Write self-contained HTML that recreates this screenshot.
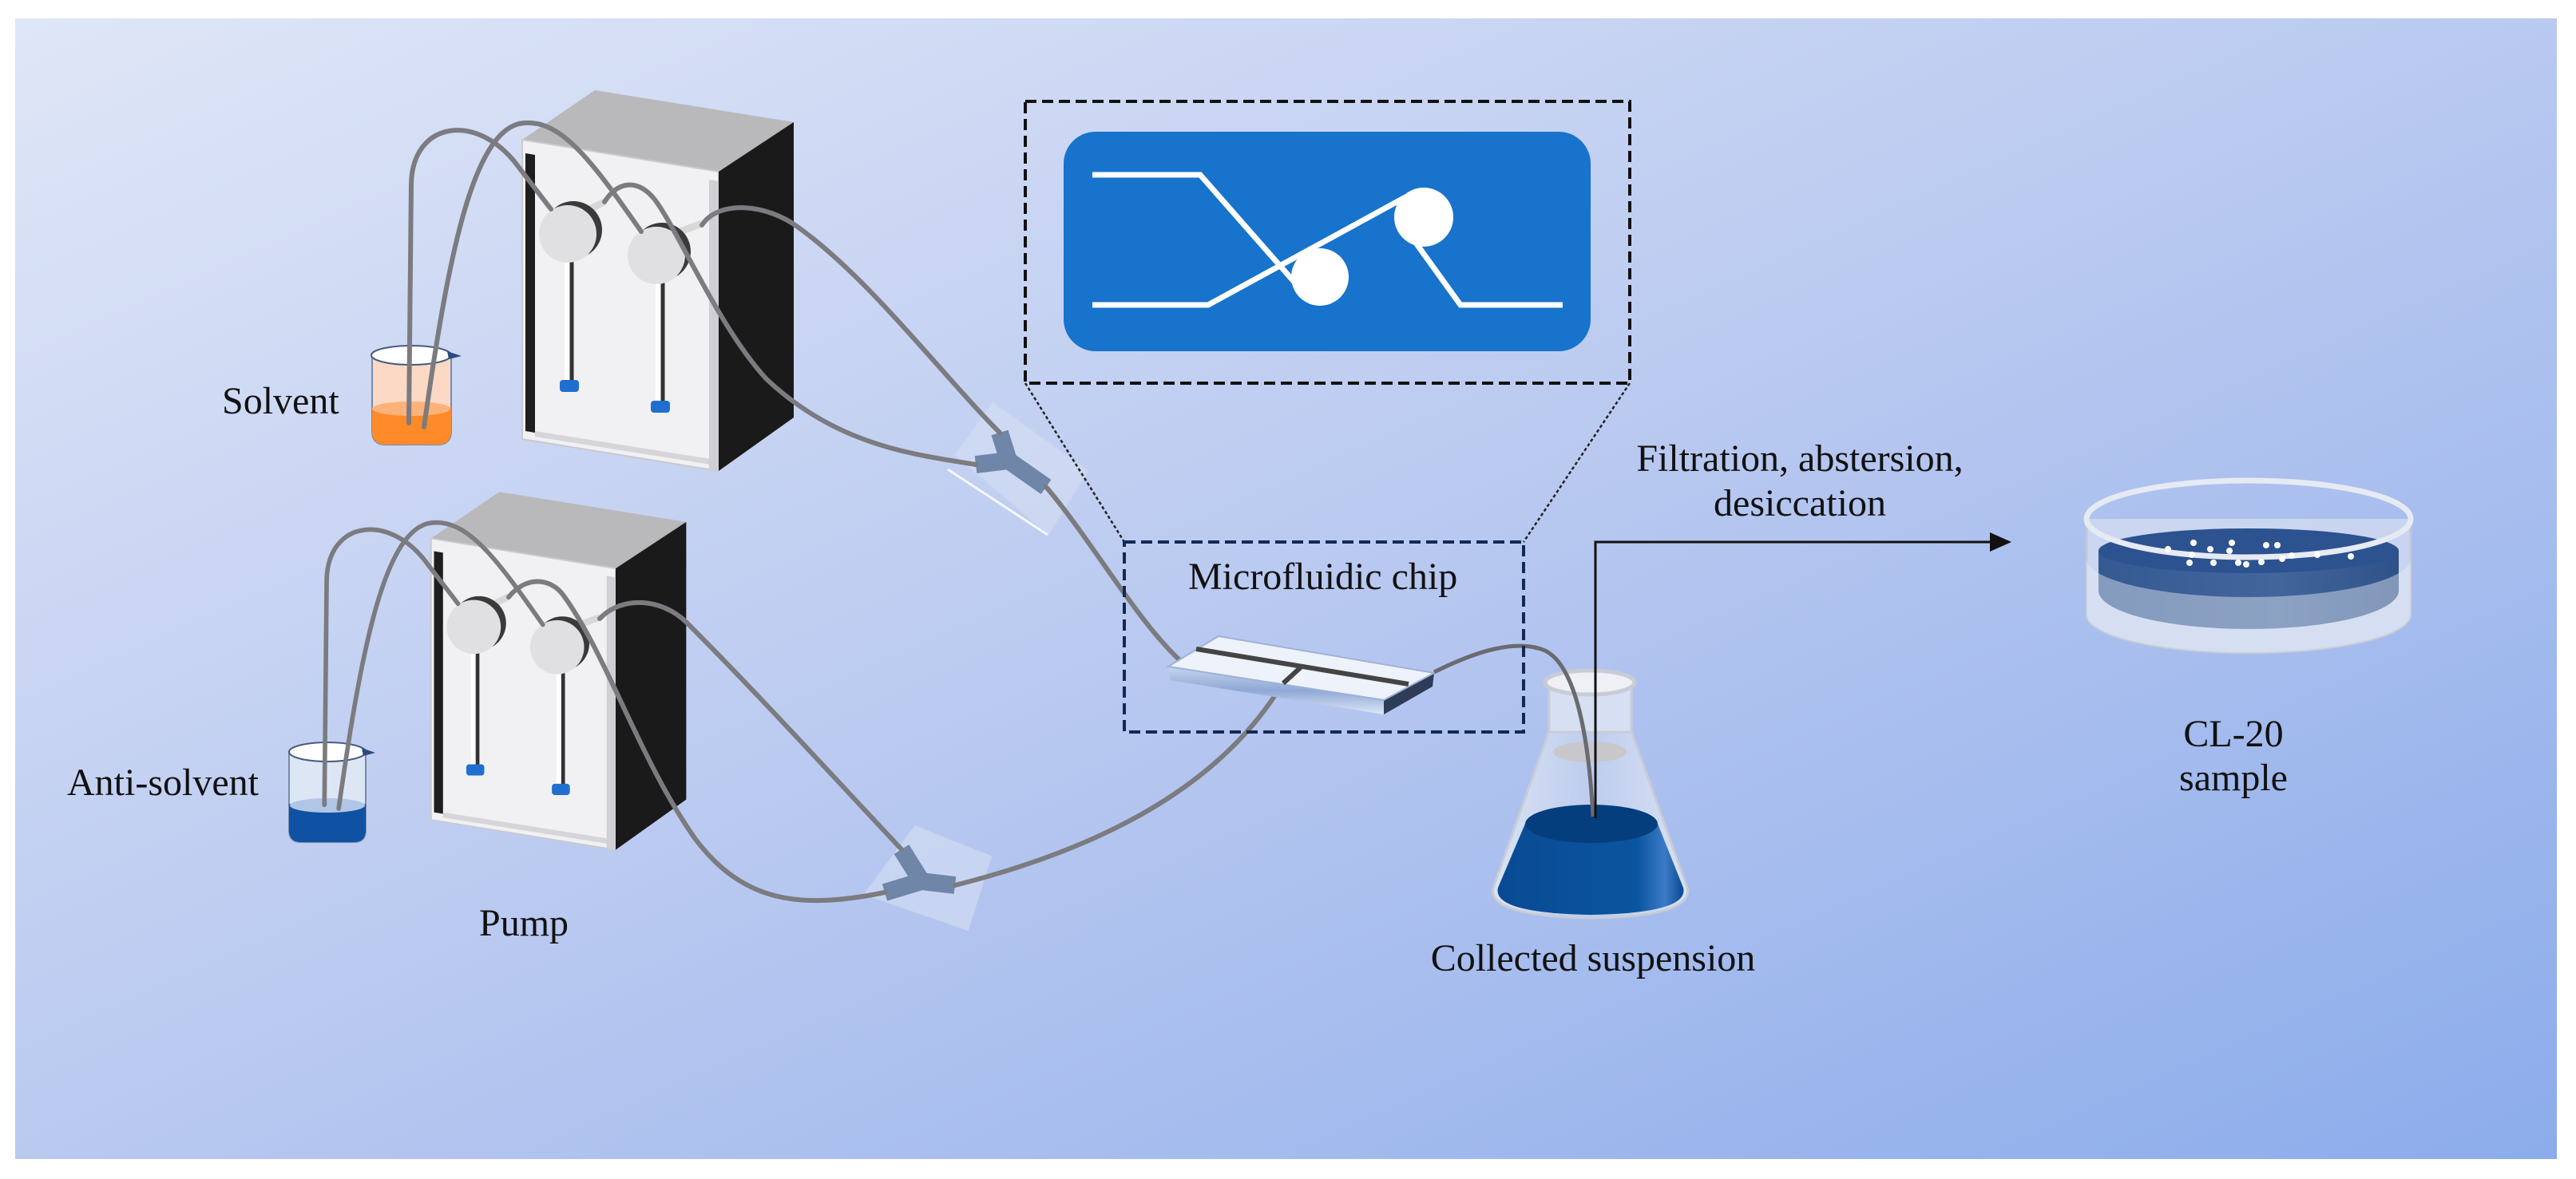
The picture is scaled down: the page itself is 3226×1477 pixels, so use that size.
<!DOCTYPE html>
<html><head><meta charset="utf-8"><style>
html,body{margin:0;padding:0;background:#fff;}
svg{display:block;}
text{font-family:"Liberation Serif",serif;font-size:48px;fill:#111;}
</style></head><body>
<svg width="3226" height="1477" viewBox="0 0 3226 1477" xmlns="http://www.w3.org/2000/svg">
<defs>
<linearGradient id="bg" x1="0" y1="0" x2="1" y2="1">
<stop offset="0" stop-color="#dfe6f7"/><stop offset="0.5" stop-color="#b9c9f0"/><stop offset="1" stop-color="#8caceb"/>
</linearGradient>
<linearGradient id="glass" x1="0" y1="0" x2="1" y2="0">
<stop offset="0" stop-color="#e8ecf5" stop-opacity="0.8"/><stop offset="0.5" stop-color="#d8e0ef" stop-opacity="0.4"/><stop offset="1" stop-color="#e8ecf5" stop-opacity="0.8"/>
</linearGradient>
<linearGradient id="flaskliq" x1="0" y1="0" x2="1" y2="0">
<stop offset="0" stop-color="#0a4a94"/><stop offset="0.75" stop-color="#0a559f"/><stop offset="0.9" stop-color="#3b7bc6"/><stop offset="1" stop-color="#0a4a94"/>
</linearGradient>
<linearGradient id="dishliq" x1="0" y1="0" x2="1" y2="0">
<stop offset="0" stop-color="#355a92"/><stop offset="0.6" stop-color="#42669c"/><stop offset="1" stop-color="#2f5289"/>
</linearGradient>
<linearGradient id="chipside" x1="0" y1="0" x2="0" y2="1">
<stop offset="0" stop-color="#c6d4ee"/><stop offset="0.5" stop-color="#8fa8d6"/><stop offset="1" stop-color="#dde6f6"/>
</linearGradient>
<g id="pump">
<polygon points="654,175 745,113 994,153 900,215" fill="#b9b9bc"/>
<polygon points="654,175 900,215 900,228 654,188" fill="#e4e4e6"/>
<polygon points="654,175 900,215 900,590 654,550" fill="#f1f0f3" stroke="#c9c9cf" stroke-width="2"/>
<polygon points="658,192 670,194 670,542 658,540" fill="#1e1e1e"/>
<polygon points="670,540 890,575 890,582 670,547" fill="#d6d6da"/>
<polygon points="888,225 900,227 900,590 888,588" fill="#d0d0d4"/>
<polygon points="900,215 994,153 994,523 900,590" fill="#1a1a1a"/>
<line x1="712" y1="320" x2="712" y2="482" stroke="#fff" stroke-width="10"/>
<line x1="716" y1="320" x2="716" y2="482" stroke="#333" stroke-width="5"/>
<rect x="701" y="476" width="24" height="15" rx="4" fill="#1f6fd0"/>
<line x1="826" y1="350" x2="826" y2="508" stroke="#fff" stroke-width="10"/>
<line x1="830" y1="350" x2="830" y2="508" stroke="#333" stroke-width="5"/>
<rect x="815" y="502" width="24" height="15" rx="4" fill="#1f6fd0"/>
<line x1="722" y1="270" x2="757" y2="253" stroke="#d8d8d8" stroke-width="9"/>
<line x1="833" y1="297" x2="879" y2="280" stroke="#d8d8d8" stroke-width="9"/>
<circle cx="718" cy="288" r="36" fill="#3a3a3a"/>
<circle cx="711" cy="293" r="36" fill="#e0e0e2"/>
<circle cx="829" cy="315" r="36" fill="#3a3a3a"/>
<circle cx="822" cy="320" r="36" fill="#e0e0e2"/>
</g>
</defs>
<rect x="0" y="0" width="3226" height="1477" fill="#fff"/>
<rect x="19" y="23" width="3183" height="1429" fill="url(#bg)"/>

<use href="#pump"/>
<use href="#pump" transform="matrix(0.94 0 0 0.94 -75 510)"/>

<g>
<path d="M466,445 L466,540 Q466,557 483,557 L548,557 Q565,557 565,540 L565,445 Z" fill="#fbd9c4" stroke="#7a8aa8" stroke-width="2"/>
<path d="M466,510 L466,540 Q466,557 483,557 L548,557 Q565,557 565,540 L565,510 Q515,520 466,510 Z" fill="#ff8a2a"/>
<ellipse cx="515" cy="512" rx="49" ry="9" fill="#fcb27a"/>
<ellipse cx="515" cy="445" rx="50" ry="12" fill="#fff" stroke="#4a5a80" stroke-width="2"/>
<path d="M560,440 L578,446 L562,450 Z" fill="#2a4a80"/>
</g>
<g>
<path d="M362,942 L362,1040 Q362,1055 377,1055 L443,1055 Q458,1055 458,1040 L458,942 Z" fill="#dde6f4" stroke="#7a8aa8" stroke-width="2"/>
<path d="M362,1007 L362,1040 Q362,1055 377,1055 L443,1055 Q458,1055 458,1040 L458,1007 Q410,1017 362,1007 Z" fill="#0f52a4"/>
<ellipse cx="410" cy="1009" rx="47" ry="9" fill="#b0c6e6"/>
<ellipse cx="410" cy="942" rx="48" ry="12" fill="#fff" stroke="#4a5a80" stroke-width="2"/>
<path d="M453,937 L470,943 L455,947 Z" fill="#2a4a80"/>
</g>

<polygon points="1195,570 1243,503 1363,590 1313,670" fill="#d6e0f4" fill-opacity="0.6" stroke="#c8d4ee" stroke-width="2"/>
<line x1="1187" y1="588" x2="1312" y2="670" stroke="#f4f8ff" stroke-width="3"/>
<path d="M1252,542 L1263,577 M1222,582 L1263,577 L1310,610" stroke="#6f86a8" stroke-width="22" fill="none"/>
<polygon points="1083,1120 1146,1035 1241,1073 1212,1165" fill="#d6e0f4" fill-opacity="0.6" stroke="#c8d4ee" stroke-width="2"/>
<path d="M1129,1064 L1154,1104 L1196,1109 M1154,1104 L1108,1118" stroke="#6f86a8" stroke-width="22" fill="none"/>

<g fill="none" stroke="#7b7b80" stroke-width="6" stroke-linecap="round">
<path d="M512,530 L515,230 C517,150 600,140 650,210 L690,262"/>
<path d="M531,535 C560,330 590,170 650,155 C700,145 740,200 803,290"/>
<path d="M757,253 C775,225 800,225 820,250 C850,290 900,410 960,475 C1050,560 1150,570 1222,582"/>
<path d="M879,282 C900,250 960,255 1000,285 C1090,350 1180,470 1252,542"/>
<path d="M1310,610 C1370,680 1430,790 1490,838"/>
<g transform="matrix(0.94 0 0 0.94 -75 510)">
<path d="M512,530 L515,230 C517,150 600,140 650,210 L690,262"/>
<path d="M531,535 C560,330 590,170 650,155 C700,145 740,200 803,290"/>
</g>
<path d="M637,748 C660,720 690,725 705,745 C760,820 800,950 870,1050 C930,1130 1000,1140 1108,1118"/>
<path d="M751,775 C780,745 830,750 860,780 C950,870 1050,980 1129,1064"/>
<path d="M1196,1109 C1350,1070 1520,1000 1607,855"/>
</g>

<polygon points="1463,835 1465,852 1733,895 1733,877" fill="url(#chipside)"/>
<polygon points="1733,877 1796,843 1794,860 1733,895" fill="#2f3c58"/>
<polygon points="1463,835 1526,797 1796,843 1733,877" fill="#eef2fb" stroke="#9fb2d6" stroke-width="2"/>
<line x1="1498" y1="813" x2="1764" y2="857" stroke="#444" stroke-width="6"/>
<line x1="1630" y1="835" x2="1607" y2="856" stroke="#444" stroke-width="6"/>

<g>
<path d="M1940,916 L1870,1112 Q1862,1148 1993,1150 Q2122,1148 2113,1112 L2043,916 Z" fill="url(#glass)" stroke="#c8ccd6" stroke-width="3"/>
<rect x="1940" y="855" width="103" height="62" fill="#e4e9f4" fill-opacity="0.75" stroke="#c8ccd6" stroke-width="3"/>
<ellipse cx="1991" cy="855" rx="56" ry="15" fill="#eef0f6" stroke="#c8ccd6" stroke-width="5"/>
<ellipse cx="1991" cy="942" rx="46" ry="13" fill="#c8c8cc"/>
<path d="M1910,1032 L1876,1112 Q1868,1144 1993,1146 Q2116,1144 2108,1112 L2076,1032 Z" fill="url(#flaskliq)"/>
<ellipse cx="1993" cy="1032" rx="83" ry="24" fill="#053e7c"/>
</g>
<path d="M1796,842 C1850,815 1900,800 1935,815 C1975,835 1990,930 1995,1023" fill="none" stroke="#6a6a70" stroke-width="5"/>

<g>
<path d="M2613,650 L2613,770 A203,48 0 0 0 3019,770 L3019,650" fill="#dfe5f2" fill-opacity="0.6" stroke="#c0c8d8" stroke-width="3"/>
<path d="M2628,690 L2628,740 A188,48 0 0 0 3004,740 L3004,690 Z" fill="url(#dishliq)"/>
<ellipse cx="2816" cy="690" rx="188" ry="28" fill="#2d5290"/>
<path d="M2613,700 L2613,770 A203,48 0 0 0 3019,770 L3019,700 A203,48 0 0 1 2613,700 Z" fill="#e6ebf5" fill-opacity="0.45"/>
<ellipse cx="2816" cy="650" rx="203" ry="48" fill="none" stroke="#e6eaf3" stroke-width="7"/>
<g fill="#fff">
<circle cx="2715" cy="688" r="4"/><circle cx="2747" cy="680" r="4"/><circle cx="2745" cy="695" r="4"/><circle cx="2768" cy="688" r="4"/>
<circle cx="2795" cy="680" r="4"/><circle cx="2792" cy="690" r="4"/><circle cx="2772" cy="705" r="4"/><circle cx="2803" cy="705" r="4"/>
<circle cx="2813" cy="707" r="4"/><circle cx="2832" cy="704" r="4"/><circle cx="2838" cy="683" r="4"/><circle cx="2852" cy="683" r="4"/>
<circle cx="2858" cy="700" r="4"/><circle cx="2870" cy="696" r="4"/><circle cx="2902" cy="695" r="4"/><circle cx="2944" cy="697" r="4"/>
<circle cx="2742" cy="705" r="4"/>
</g>
</g>

<rect x="1284" y="127" width="757" height="353" fill="none" stroke="#111" stroke-width="4" stroke-dasharray="14,7"/>
<rect x="1332" y="165" width="660" height="275" rx="40" fill="#1773cc"/>
<g stroke="#fff" stroke-width="7" fill="none">
<path d="M1368,219 L1503,219 L1625,358"/>
<path d="M1368,382 L1513,382 L1760,247"/>
<path d="M1770,300 L1829,382 L1957,382"/>
</g>
<circle cx="1653" cy="347" r="36" fill="#fff"/>
<circle cx="1783" cy="272" r="37" fill="#fff"/>
<line x1="1284" y1="480" x2="1408" y2="679" stroke="#222" stroke-width="2.5" stroke-dasharray="4,3"/>
<line x1="2041" y1="480" x2="1908" y2="679" stroke="#222" stroke-width="2.5" stroke-dasharray="4,3"/>
<rect x="1408" y="679" width="500" height="238" fill="none" stroke="#102a55" stroke-width="4" stroke-dasharray="14,7"/>

<path d="M1998,1025 L1998,679 L2495,679" fill="none" stroke="#111" stroke-width="3"/>
<polygon points="2492,667 2519,679 2492,691" fill="#111"/>

<text x="278" y="518">Solvent</text>
<text x="84" y="996">Anti-solvent</text>
<text x="600" y="1172">Pump</text>
<text x="1488" y="738">Microfluidic chip</text>
<text x="2254" y="590" text-anchor="middle">Filtration, abstersion,</text>
<text x="2254" y="646" text-anchor="middle">desiccation</text>
<text x="1995" y="1216" text-anchor="middle">Collected suspension</text>
<text x="2797" y="935" text-anchor="middle">CL-20</text>
<text x="2797" y="990" text-anchor="middle">sample</text>
</svg>
</body></html>
